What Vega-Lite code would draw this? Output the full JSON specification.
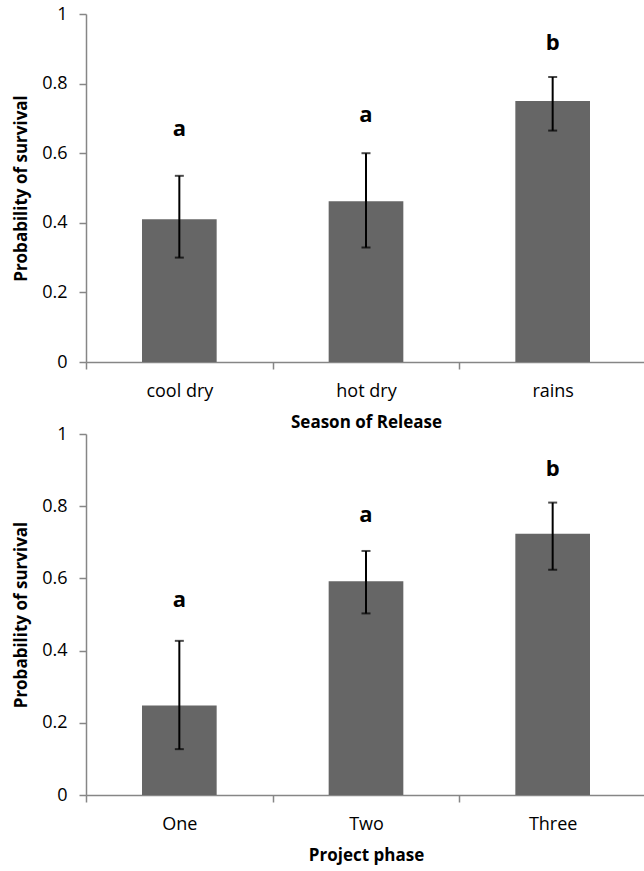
{
  "$schema": "https://vega.github.io/schema/vega-lite/v6.json",
  "padding": {"left": 12, "top": 5, "right": 0, "bottom": 5},
  "background": "white",
  "config": {
    "view": {"stroke": null},
    "font": "Open Sans",
    "axis": {
      "domainColor": "#868686", "domainWidth": 1.5,
      "tickColor": "#868686", "tickWidth": 1.5, "tickSize": 7,
      "grid": false, "labelColor": "#000000", "titleColor": "#000000",
      "labelFont": "Open Sans", "titleFont": "Open Sans",
      "labelFontSize": 18, "titleFontSize": 17, "titleFontWeight": "bold"
    },
    "axisY": {"labelPadding": 12, "titlePadding": 11},
    "axisX": {"labelPadding": 13, "titlePadding": 14, "labelAngle": 0, "tickBand": "extent"}
  },
  "bounds": "flush",
  "spacing": 72,
  "vconcat": [
    {
      "width": 560, "height": 348,
      "data": {"values": [
        {"cat": "cool dry", "p": 0.41, "lo": 0.30, "hi": 0.535, "sig": "a", "sig_y": 0.67},
        {"cat": "hot dry", "p": 0.462, "lo": 0.329, "hi": 0.60, "sig": "a", "sig_y": 0.71},
        {"cat": "rains", "p": 0.75, "lo": 0.665, "hi": 0.819, "sig": "b", "sig_y": 0.917}
      ]},
      "encoding": {
        "x": {"field": "cat", "type": "nominal", "sort": null,
              "scale": {"paddingInner": 0, "paddingOuter": 0},
              "title": "Season of Release"}
      },
      "layer": [
        {"mark": {"type": "bar", "color": "#666666", "width": {"band": 0.4}},
         "encoding": {"y": {"field": "p", "type": "quantitative", "title": "Probability of survival",
            "scale": {"domain": [0, 1]},
            "axis": {"values": [0, 0.2, 0.4, 0.6, 0.8, 1], "format": "~g"}}}},
        {"mark": {"type": "rule", "color": "#000000", "strokeWidth": 2},
         "encoding": {"y": {"field": "lo", "type": "quantitative", "title": "Probability of survival"}, "y2": {"field": "hi"}}},
        {"mark": {"type": "tick", "color": "#000000", "thickness": 2, "size": 9},
         "encoding": {"y": {"field": "lo", "type": "quantitative", "title": "Probability of survival"}}},
        {"mark": {"type": "tick", "color": "#000000", "thickness": 2, "size": 9},
         "encoding": {"y": {"field": "hi", "type": "quantitative", "title": "Probability of survival"}}},
        {"mark": {"type": "text", "fontSize": 22, "fontWeight": "bold", "color": "#000000"},
         "encoding": {"y": {"field": "sig_y", "type": "quantitative", "title": "Probability of survival"}, "text": {"field": "sig"}}}
      ]
    },
    {
      "width": 560, "height": 361,
      "data": {"values": [
        {"cat": "One", "p": 0.248, "lo": 0.127, "hi": 0.427, "sig": "a", "sig_y": 0.539},
        {"cat": "Two", "p": 0.592, "lo": 0.503, "hi": 0.676, "sig": "a", "sig_y": 0.777},
        {"cat": "Three", "p": 0.724, "lo": 0.624, "hi": 0.81, "sig": "b", "sig_y": 0.902}
      ]},
      "encoding": {
        "x": {"field": "cat", "type": "nominal", "sort": null,
              "scale": {"paddingInner": 0, "paddingOuter": 0},
              "title": "Project phase"}
      },
      "layer": [
        {"mark": {"type": "bar", "color": "#666666", "width": {"band": 0.4}},
         "encoding": {"y": {"field": "p", "type": "quantitative", "title": "Probability of survival",
            "scale": {"domain": [0, 1]},
            "axis": {"values": [0, 0.2, 0.4, 0.6, 0.8, 1], "format": "~g"}}}},
        {"mark": {"type": "rule", "color": "#000000", "strokeWidth": 2},
         "encoding": {"y": {"field": "lo", "type": "quantitative", "title": "Probability of survival"}, "y2": {"field": "hi"}}},
        {"mark": {"type": "tick", "color": "#000000", "thickness": 2, "size": 9},
         "encoding": {"y": {"field": "lo", "type": "quantitative", "title": "Probability of survival"}}},
        {"mark": {"type": "tick", "color": "#000000", "thickness": 2, "size": 9},
         "encoding": {"y": {"field": "hi", "type": "quantitative", "title": "Probability of survival"}}},
        {"mark": {"type": "text", "fontSize": 22, "fontWeight": "bold", "color": "#000000"},
         "encoding": {"y": {"field": "sig_y", "type": "quantitative", "title": "Probability of survival"}, "text": {"field": "sig"}}}
      ]
    }
  ]
}
